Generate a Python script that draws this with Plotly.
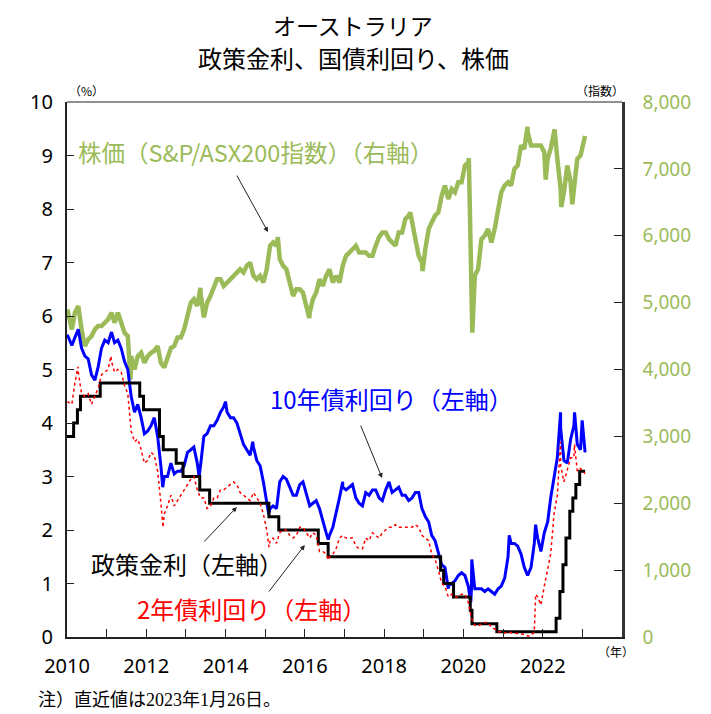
import plotly.graph_objects as go
import pandas as pd

# ---------------- DATA ----------------
# monthly sample dates: first trading day of 2010, mid-month points, latest value (2023-01-26)
month_dates = (["2010-01-04"]
               + [(d + pd.Timedelta(days=14)).strftime("%Y-%m-%d")
                  for d in pd.date_range("2010-02-01", "2022-12-01", freq="MS")]
               + ["2023-01-26"])

# S&P/ASX200 index (right axis)
stock_values = [
    4900, 4600, 4850, 4950, 4600, 4350, 4450, 4500, 4600, 4650, 4650, 4700,   # 2010
    4750, 4850, 4700, 4850, 4700, 4550, 4500, 4200, 4000, 4200, 4250, 4100,   # 2011
    4200, 4250, 4280, 4350, 4100, 4030, 4200, 4320, 4350, 4480, 4480, 4600,   # 2012
    4800, 5000, 5050, 4950, 5150, 4780, 5000, 5100, 5250, 5350, 5350, 5250,   # 2013
    5300, 5350, 5400, 5450, 5500, 5450, 5550, 5600, 5400, 5350, 5400, 5300,   # 2014
    5500, 5850, 5900, 5850, 5650, 5550, 5500, 5300, 5100, 5200, 5200, 5150,   # 2015
    4950, 4850, 5050, 5150, 5350, 5250, 5400, 5500, 5300, 5400, 5300, 5550,   # 2016
    5700, 5750, 5800, 5850, 5750, 5750, 5750, 5700, 5700, 5850, 5980, 6050,   # 2017
    6050, 5950, 5900, 5850, 6050, 6050, 6250, 6300, 6200, 5900, 5700, 5600,   # 2018
    5800, 6100, 6200, 6300, 6350, 6600, 6750, 6550, 6700, 6650, 6800, 6800,   # 2019
    7050, 7100, 5300, 5400, 5500, 5950, 6000, 6100, 5900, 6100, 6400, 6650,   # 2020
    6750, 6800, 6750, 7000, 7050, 7350, 7300, 7550, 7350, 7350, 7350, 7350,   # 2021
    7250, 7150, 7300, 7550, 7150, 6700, 6650, 7050, 6800, 6700, 7150, 7200,   # 2022
    7490,                                                                     # 2023-01-26
]
stock_extra_dates = ["2011-08-09", "2013-05-14", "2015-04-27", "2016-02-11", "2018-08-29",
                     "2018-12-21", "2020-02-20", "2020-03-23", "2021-08-13", "2022-01-28",
                     "2022-04-20", "2022-06-20", "2022-09-30"]
stock_extra_values = [3850, 5220, 5980, 4770, 6350,
                      5470, 7160, 4550, 7630, 6840,
                      7590, 6430, 6470]

# 10-year government bond yield (%, left axis)
y10_values = [
    5.65, 5.45, 5.60, 5.75, 5.40, 5.25, 5.20, 4.90, 4.80, 5.05, 5.40, 5.55,   # 2010
    5.50, 5.70, 5.50, 5.55, 5.40, 5.15, 5.00, 4.50, 4.20, 4.35, 4.10, 3.80,   # 2011
    3.85, 3.95, 4.10, 3.75, 3.20, 3.00, 3.00, 3.25, 3.05, 3.10, 3.10, 3.20,   # 2012
    3.45, 3.50, 3.55, 3.25, 3.20, 3.75, 3.80, 3.95, 3.95, 4.05, 4.20, 4.30,   # 2013
    4.20, 4.10, 4.10, 4.00, 3.80, 3.60, 3.50, 3.40, 3.55, 3.30, 3.20, 2.90,   # 2014
    2.55, 2.40, 2.45, 2.40, 2.90, 3.00, 2.95, 2.80, 2.65, 2.65, 2.85, 2.90,   # 2015
    2.65, 2.45, 2.50, 2.55, 2.40, 2.15, 1.95, 1.90, 2.05, 2.30, 2.60, 2.80,   # 2016
    2.75, 2.80, 2.85, 2.60, 2.50, 2.45, 2.70, 2.65, 2.75, 2.75, 2.60, 2.55,   # 2017
    2.75, 2.90, 2.70, 2.75, 2.80, 2.65, 2.65, 2.55, 2.60, 2.70, 2.70, 2.40,   # 2018
    2.25, 2.15, 1.90, 1.80, 1.60, 1.35, 1.30, 0.95, 1.00, 1.05, 1.15, 1.20,   # 2019
    1.15, 0.95, 0.90, 0.90, 0.90, 0.90, 0.85, 0.90, 0.85, 0.80, 0.90, 0.95,   # 2020
    1.10, 1.50, 1.75, 1.75, 1.70, 1.55, 1.30, 1.15, 1.30, 1.75, 1.85, 1.60,   # 2021
    1.95, 2.15, 2.60, 3.00, 3.35, 3.90, 3.30, 3.25, 3.70, 3.95, 3.60, 3.50,   # 2022
    3.45,                                                                     # 2023-01-26
]
y10_extra_dates = ["2012-06-01", "2013-05-02", "2013-12-31", "2014-09-08", "2015-02-02",
                   "2016-08-04", "2016-12-15", "2019-08-15", "2020-03-09", "2020-03-18",
                   "2021-02-26", "2021-10-27", "2022-06-14", "2022-10-21", "2022-12-30"]
y10_extra_values = [2.80, 3.00, 4.40, 3.65, 2.30,
                    1.82, 2.90, 0.90, 0.65, 1.45,
                    1.90, 2.10, 4.20, 4.20, 4.05]

# 2-year government bond yield (%, left axis)
y2_values = [
    4.40, 4.35, 4.75, 4.95, 4.55, 4.50, 4.55, 4.35, 4.50, 4.65, 4.90, 4.95,   # 2010
    5.00, 5.15, 4.95, 5.00, 4.95, 4.70, 4.55, 3.85, 3.65, 3.70, 3.50, 3.25,   # 2011
    3.30, 3.45, 3.40, 3.10, 2.50, 2.30, 2.45, 2.65, 2.45, 2.55, 2.65, 2.75,   # 2012
    2.85, 2.95, 3.00, 2.75, 2.60, 2.60, 2.40, 2.45, 2.60, 2.60, 2.75, 2.75,   # 2013
    2.80, 2.85, 2.90, 2.85, 2.70, 2.65, 2.60, 2.55, 2.70, 2.60, 2.50, 2.30,   # 2014
    2.00, 1.80, 1.85, 1.75, 1.95, 2.00, 2.00, 1.90, 1.85, 1.90, 2.05, 2.05,   # 2015
    1.95, 1.85, 1.95, 1.90, 1.60, 1.60, 1.55, 1.50, 1.55, 1.65, 1.85, 1.90,   # 2016
    1.85, 1.85, 1.85, 1.70, 1.65, 1.65, 1.85, 1.80, 1.95, 1.90, 1.85, 1.95,   # 2017
    2.00, 2.05, 2.05, 2.10, 2.05, 2.05, 2.05, 2.05, 2.05, 2.10, 2.05, 1.90,   # 2018
    1.85, 1.80, 1.55, 1.45, 1.25, 1.00, 0.95, 0.75, 0.80, 0.75, 0.75, 0.80,   # 2019
    0.80, 0.65, 0.35, 0.22, 0.20, 0.25, 0.27, 0.27, 0.18, 0.15, 0.10, 0.10,   # 2020
    0.07, 0.10, 0.08, 0.07, 0.07, 0.05, 0.05, 0.02, 0.02, 0.10, 0.75, 0.60,   # 2021
    0.95, 1.30, 1.55, 2.30, 2.65, 3.20, 2.90, 3.15, 3.35, 3.35, 3.10, 3.15,   # 2022
    3.05,                                                                     # 2023-01-26
]
y2_extra_dates = ["2010-04-12", "2011-02-10", "2012-06-04", "2015-02-05", "2016-08-05",
                  "2021-10-28", "2022-06-14", "2022-10-20"]
y2_extra_values = [5.05, 5.25, 2.05, 1.68, 1.44,
                   0.80, 3.65, 3.60]

# RBA cash rate target (%, left axis) - dates of change
policy_dates = ["2010-01-01", "2010-03-03", "2010-04-07", "2010-05-05", "2010-11-03",
                "2011-11-02", "2011-12-07", "2012-05-02", "2012-06-06", "2012-10-03",
                "2012-12-05", "2013-05-08", "2013-08-07", "2015-02-04", "2015-05-06",
                "2016-05-04", "2016-08-03", "2019-06-05", "2019-07-03", "2019-10-02",
                "2020-03-04", "2020-03-20", "2020-11-04", "2022-05-04", "2022-06-08",
                "2022-07-06", "2022-08-03", "2022-09-07", "2022-10-05", "2022-11-02",
                "2022-12-07", "2023-01-26"]
policy_values = [3.75, 4.00, 4.25, 4.50, 4.75,
                 4.50, 4.25, 3.75, 3.50, 3.25,
                 3.00, 2.75, 2.50, 2.25, 2.00,
                 1.75, 1.50, 1.25, 1.00, 0.75,
                 0.50, 0.25, 0.10, 0.35, 0.85,
                 1.35, 1.85, 2.35, 2.60, 2.85,
                 3.10, 3.10]

year_ticks = list(range(2010, 2025))
year_labels = [str(y) if (y % 2 == 0 and y <= 2022) else "" for y in year_ticks]


def merge(dates, values, extra_d, extra_v):
    df = pd.DataFrame({"d": pd.to_datetime(list(dates) + list(extra_d)),
                       "v": list(values) + list(extra_v)})
    df = df.sort_values("d")
    return df["d"], df["v"]


GREEN = "#9BBB59"
JP = "Noto Sans CJK JP"
NUM = "Noto Sans"

# the page body has an 8px margin; layout numbers below are in page pixels
OFF = 8
W, H = 711 - OFF, 714 - OFF
L, R, T, B = 67 - OFF, 622 - OFF, 102 - OFF, 637 - OFF


def px(x):
    return (x - OFF - L) / (R - L)


def py(y):
    return (B - (y - OFF)) / (B - T)


fig = go.Figure()

sd, sv = merge(month_dates, stock_values, stock_extra_dates, stock_extra_values)
fig.add_trace(go.Scatter(x=sd, y=sv, mode="lines", yaxis="y",
                         line=dict(color=GREEN, width=4.5), name="株価"))

d10, v10 = merge(month_dates, y10_values, y10_extra_dates, y10_extra_values)
fig.add_trace(go.Scatter(x=d10, y=v10, mode="lines", yaxis="y2",
                         line=dict(color="#0000FF", width=3), name="10年債"))

fig.add_trace(go.Scatter(x=pd.to_datetime(policy_dates), y=policy_values, mode="lines",
                         yaxis="y2", line=dict(color="black", width=3, shape="hv"),
                         name="政策金利"))

d2, v2 = merge(month_dates, y2_values, y2_extra_dates, y2_extra_values)
fig.add_trace(go.Scatter(x=d2, y=v2, mode="lines", yaxis="y2",
                         line=dict(color="#FF0000", width=1.5, dash="dot"), name="2年債"))

fig.update_layout(
    width=W, height=H,
    margin=dict(l=L, r=W - R, t=T, b=H - B, autoexpand=False),
    plot_bgcolor="white", paper_bgcolor="white",
    showlegend=False,
    xaxis=dict(type="date", range=["2010-01-01", "2024-01-01"], automargin=False,
               tickvals=[f"{y}-01-01" for y in year_ticks], ticktext=year_labels,
               ticks="inside", ticklen=8, tickwidth=1, tickcolor="#222",
               showline=True, linewidth=2, linecolor="#222", showgrid=False,
               zeroline=False, tickfont=dict(family=NUM, size=20, color="black"),
               ticklabelstandoff=10),
    yaxis=dict(range=[0, 8000], dtick=1000, tickformat=",d", side="right",
               automargin=False,
               ticks="inside", ticklen=8, tickwidth=1, tickcolor="#222",
               showline=True, linewidth=2.5, linecolor="#333", showgrid=False,
               zeroline=False, tickfont=dict(family=NUM, size=19, color=GREEN),
               ticklabelstandoff=14),
    yaxis2=dict(range=[0, 10], dtick=1, overlaying="y", side="left",
                automargin=False,
                ticks="inside", ticklen=7, tickwidth=1, tickcolor="#222",
                showline=True, linewidth=2, linecolor="#222", showgrid=False,
                zeroline=False, tickfont=dict(family=NUM, size=20, color="black"),
                ticklabelstandoff=8),
)

# top border
fig.add_shape(type="line", xref="paper", yref="paper", x0=0, x1=1, y0=1, y1=1,
              line=dict(color="#222", width=1))

ann = []


def text(x, y, s, size, color="black", family=JP, xanchor="left"):
    ann.append(dict(x=px(x), y=py(y), xref="paper", yref="paper", text=s,
                    showarrow=False, xanchor=xanchor, yanchor="middle",
                    font=dict(family=family, size=size, color=color)))


text(353, 25, "オーストラリア", 23, xanchor="center")
text(353, 58, "政策金利、国債利回り、株価", 24, xanchor="center")
text(67, 91, "（%）", 12)
text(574, 91, "（指数）", 12)
text(596, 652, "（年）", 12)
text(36, 700, "注）直近値は2023年1月26日。", 18, family="Liberation Serif, Noto Sans CJK JP")

text(76, 152, "株価（S&P/ASX200指数）（右軸）", 23.5, GREEN)
text(268, 398, "10年債利回り（左軸）", 24, "#0000FF")
text(89, 563, "政策金利（左軸）", 24, "black")
text(135, 608, "2年債利回り（左軸）", 24, "#FF0000")


def arrow(xdate, yval, yref, dx, dy):
    ann.append(dict(x=xdate, y=yval, xref="x", yref=yref, text="", showarrow=True,
                    ax=dx, ay=dy, axref="pixel", ayref="pixel",
                    arrowhead=2, arrowsize=1, arrowwidth=1, arrowcolor="#222"))


arrow("2015-01-27", 6055, "y", -32, -58)
arrow("2017-12-13", 2.97, "y2", -22, -54)
arrow("2014-04-15", 2.43, "y2", -34, 36)
arrow("2016-01-01", 1.72, "y2", -37, 48)

fig.update_layout(annotations=ann)
fig.write_html("out.html")
